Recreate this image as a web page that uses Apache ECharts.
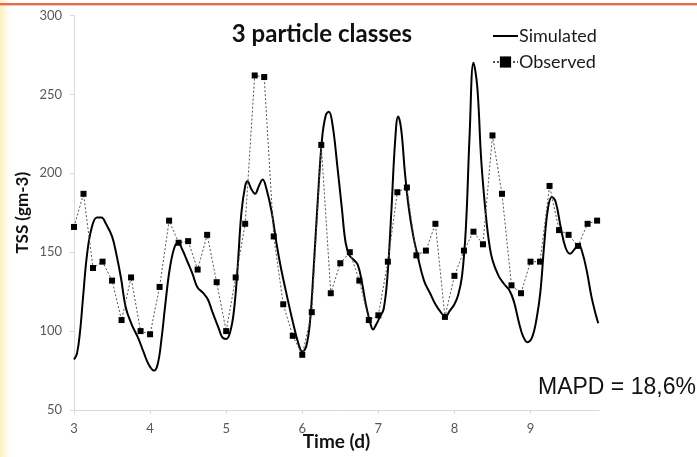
<!DOCTYPE html>
<html>
<head>
<meta charset="utf-8">
<script src="https://cdn.jsdelivr.net/npm/echarts@6/dist/echarts.min.js"></script>
<style>
  html, body { margin: 0; padding: 0; background: #ffffff; }
  #chart { width: 697px; height: 457px; }
</style>
</head>
<body>
<div id="chart"></div>
<script>
// Observed TSS, sampled every 3 hours from day 3
const obsStart = 3;
const obsStep = 0.125;
const observedTSS = [
  166, 187, 140, 144, 132, 107, 134, 100, 98, 128,
  170, 156, 157, 139, 161, 131, 100, 134, 168, 262,
  261, 160, 117, 97, 85, 112, 218, 124, 143, 150,
  132, 107, 110, 144, 188, 191, 148, 151, 168, 109,
  135, 151, 163, 155, 224, 187, 129, 124, 144, 144,
  192, 164, 161, 154, 168, 170
];

// Simulated TSS (model output), time in days
const simTime = [
  3.0, 3.04, 3.08, 3.12, 3.17, 3.23, 3.3, 3.36, 3.42, 3.5,
  3.56, 3.62, 3.68, 3.76, 3.84, 3.92, 3.98, 4.05, 4.1, 4.15,
  4.2, 4.26, 4.32, 4.37, 4.42, 4.5, 4.56, 4.62, 4.7, 4.76,
  4.82, 4.9, 4.95, 5.0, 5.05, 5.1, 5.15, 5.2, 5.25, 5.28,
  5.33, 5.38, 5.43, 5.48, 5.53, 5.6, 5.66, 5.72, 5.8, 5.88,
  5.95, 6.0, 6.05, 6.1, 6.15, 6.2, 6.26, 6.31, 6.35, 6.4,
  6.46, 6.52, 6.57, 6.62, 6.68, 6.73, 6.78, 6.84, 6.9, 6.93,
  6.97, 7.02, 7.07, 7.12, 7.17, 7.22, 7.26, 7.3, 7.35, 7.4,
  7.46, 7.52, 7.6, 7.68, 7.75, 7.82, 7.88, 7.94, 8.0, 8.05,
  8.1, 8.15, 8.2, 8.25, 8.3, 8.35, 8.4, 8.45, 8.5, 8.58,
  8.65, 8.72, 8.78, 8.85, 8.9, 8.96, 9.02, 9.08, 9.13, 9.18,
  9.23, 9.28, 9.33, 9.4, 9.46, 9.52, 9.58, 9.63, 9.68, 9.74,
  9.8, 9.86, 9.89
];
const simTSS = [
  82, 86, 100, 122, 148, 165, 172, 172, 168, 160,
  148, 133, 115, 104, 96, 86, 79, 75, 79, 95,
  117, 140, 153, 156, 152, 143, 136, 128, 124, 120,
  112, 102, 96, 95, 99, 112, 140, 175, 192, 195,
  190, 187, 192, 196, 190, 175, 156, 140, 122, 105,
  92, 87, 90, 105, 140, 180, 222, 237, 239, 230,
  205, 178, 156, 148, 145, 142, 132, 116, 104, 101,
  104, 109, 114, 135, 175, 220, 236, 228, 200, 178,
  160, 147, 132, 124, 117, 112, 109, 113, 117, 123,
  135, 165, 225, 270, 255, 210, 180, 158, 145, 135,
  130, 126, 119, 105, 97, 93, 96, 108, 125, 155,
  178, 185, 182, 165, 153, 149, 152, 155, 150, 138,
  122, 110, 105
];

const xTicks = [3, 4, 5, 6, 7, 8, 9];

const chartTitle = '3 particle classes';
const xName = 'Time (d)';
const yName = 'TSS (gm-3)';
const statText = 'MAPD = 18,6%';

const observedData = observedTSS.map((v, i) => [obsStart + i * obsStep, v]);
const simulatedData = simTSS.map((v, i) => [simTime[i], v]);

const uiFont = 'Lato, "Open Sans", sans-serif';
const chart = echarts.init(document.getElementById('chart'), null, { renderer: 'canvas' });

chart.setOption({
  animation: false,
  backgroundColor: '#ffffff',
  graphic: [
    // soft yellow fade along the left edge
    {
      type: 'rect', left: 0, top: 0, z: -10,
      shape: { width: 16, height: 457 },
      style: {
        fill: new echarts.graphic.LinearGradient(0, 0, 1, 0, [
          { offset: 0, color: 'rgba(252,232,160,0.7)' },
          { offset: 1, color: 'rgba(255,255,255,0)' }
        ])
      }
    },
    // orange rule across the top
    { type: 'rect', left: 0, top: 3, z: 10, shape: { width: 697, height: 2 }, style: { fill: '#e8694c' } },
    { type: 'rect', left: 0, top: 5, z: 10, shape: { width: 697, height: 1 }, style: { fill: '#f6c2b2' } }
  ],
  title: [
    {
      text: chartTitle,
      left: 317, top: 17, textAlign: 'center',
      textStyle: { fontFamily: uiFont, fontSize: 24, fontWeight: 'bold', color: '#111111' }
    },
    {
      text: statText,
      left: 533, top: 371,
      textStyle: { fontFamily: '"Liberation Sans", Arial, sans-serif', fontSize: 23, fontWeight: 'normal', color: '#111111' }
    }
  ],
  legend: {
    orient: 'vertical',
    left: 487, top: 22,
    itemWidth: 25, itemHeight: 14, itemGap: 8,
    textStyle: { fontFamily: uiFont, fontSize: 18, lineHeight: 14, color: '#1a1a1a', padding: [0, 0, 0, -4] },
    data: [
      { name: 'Simulated', icon: 'path://M0,0H25V2H0Z' },
      { name: 'Observed' }
    ]
  },
  grid: { left: 74, right: 98, top: 15.5, bottom: 47, containLabel: false, outerBoundsMode: 'none' },
  xAxis: {
    type: 'value',
    min: 3, max: 9.9, interval: 1,
    name: xName, nameLocation: 'middle', nameGap: 22, nameMoveOverlap: false,
    nameTextStyle: { fontFamily: uiFont, fontSize: 19, fontWeight: 'bold', color: '#111111' },
    axisLine: { show: true, lineStyle: { color: '#d9d9d9', width: 1 } },
    axisTick: { show: true, length: 4, lineStyle: { color: '#d9d9d9' }, customValues: xTicks },
    axisLabel: { margin: 12, fontFamily: uiFont, fontSize: 13, color: '#595959', customValues: xTicks },
    splitLine: { show: false }
  },
  yAxis: {
    type: 'value',
    min: 50, max: 300, interval: 50,
    name: yName, nameLocation: 'middle', nameGap: 43, nameRotate: 90, nameMoveOverlap: false,
    nameTextStyle: { fontFamily: uiFont, fontSize: 17, fontWeight: 'bold', color: '#111111' },
    axisLine: { show: true, lineStyle: { color: '#d9d9d9', width: 1 } },
    axisTick: { show: true, length: 4, lineStyle: { color: '#d9d9d9' } },
    axisLabel: { margin: 12, fontFamily: uiFont, fontSize: 13, color: '#595959' },
    splitLine: { show: false }
  },
  series: [
    {
      name: 'Simulated',
      type: 'line',
      data: simulatedData,
      smooth: 0.4,
      symbol: 'none',
      lineStyle: { color: '#000000', width: 2 },
      itemStyle: { color: '#000000' },
      z: 3
    },
    {
      name: 'Observed',
      type: 'line',
      data: observedData,
      smooth: false,
      symbol: 'rect',
      symbolSize: 6,
      showAllSymbol: true,
      lineStyle: { color: '#555555', width: 1, type: [2, 2] },
      itemStyle: { color: '#000000' },
      z: 4
    }
  ]
});
</script>
</body>
</html>
